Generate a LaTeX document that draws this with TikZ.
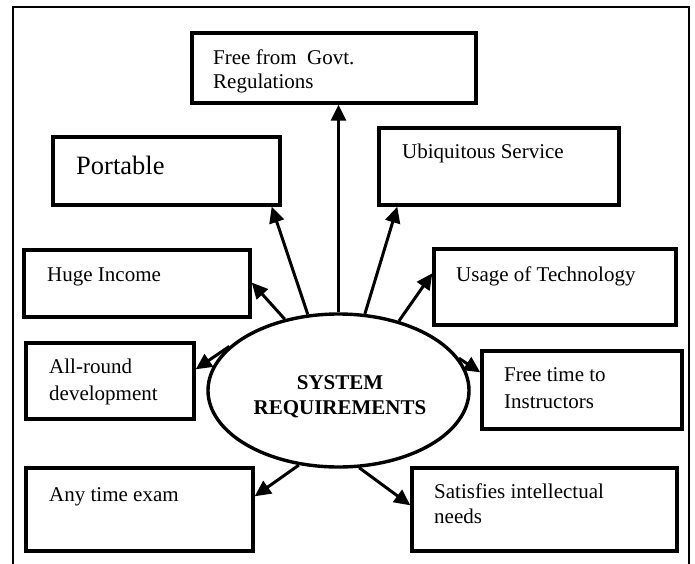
\documentclass[tikz,border=0pt]{standalone}
\usepackage{fontspec}
\setmainfont{Liberation Serif}
\usetikzlibrary{arrows.meta,shapes.geometric}
\begin{document}
\begin{tikzpicture}[x=1pt,y=-1pt,
  box/.style={draw,line width=3.4pt,rectangle,inner sep=0pt},
  lbl/.style={anchor=base west,inner sep=0pt,font=\fontsize{21pt}{25pt}\selectfont},
  ctr/.style={anchor=base,inner sep=0pt,font=\fontsize{21pt}{25pt}\selectfont\bfseries},
  conn/.style={line width=3pt,-{Triangle[length=16pt,width=15pt]}}]
\useasboundingbox (0,0) rectangle (695,564);
\fill[white] (0,0) rectangle (695,564);
\draw[line width=1.2pt] (13,570) -- (13,7) -- (689,7) -- (689,570);
% boxes
\node[box,minimum width=284pt,minimum height=70pt] (free) at (334,68) {};
\node[box,minimum width=227pt,minimum height=68pt] (portable) at (166.5,171) {};
\node[box,minimum width=240pt,minimum height=77pt] (ubi) at (499,166.5) {};
\node[box,minimum width=226pt,minimum height=67pt] (huge) at (137,283.5) {};
\node[box,minimum width=242pt,minimum height=76pt] (usage) at (555,287) {};
\node[box,minimum width=168pt,minimum height=76pt] (allround) at (110,381) {};
\node[box,minimum width=200pt,minimum height=78pt] (freetime) at (582,390) {};
\node[box,minimum width=227pt,minimum height=83pt] (anytime) at (139.5,509.5) {};
\node[box,minimum width=265pt,minimum height=83pt] (satis) at (544.5,509.5) {};
\node[draw,ellipse,line width=3.4pt,minimum width=261pt,minimum height=153pt,inner sep=0pt] (ell) at (338.5,390.5) {};
% texts
\node[lbl] (t1a) at (213,65) {Free from\hspace{0.5em}Govt.};
\node[lbl] (t1b) at (213,89) {Regulations};
\node[lbl,font=\fontsize{26.5pt}{30pt}\selectfont] (t2) at (76,175) {Portable};
\node[lbl] (t3) at (402,159) {Ubiquitous Service};
\node[lbl] (t4) at (47,281) {Huge Income};
\node[lbl] (t5) at (456,281) {Usage of Technology};
\node[lbl] (t6a) at (49,373) {All-round};
\node[lbl] (t6b) at (49,400) {development};
\node[lbl] (t7a) at (504,381) {Free time to};
\node[lbl] (t7b) at (504,408) {Instructors};
\node[lbl] (t8) at (49,501) {Any time exam};
\node[lbl] (t9a) at (434,498) {Satisfies intellectual};
\node[lbl] (t9b) at (434,523) {needs};
\node[ctr] (c1) at (340,389) {SYSTEM};
\node[ctr] (c2) at (340,414) {REQUIREMENTS};
% connectors
\draw[conn] (ell.north) -- (ell.north |- free.south);
\draw[conn] (ell.112) -- ([xshift=-10pt]portable.south east);
\draw[conn] (ell.127) -- ([yshift=1pt]huge.east);
\draw[conn] (ell.71) -- ([xshift=20pt]ubi.south west);
\draw[conn] (ell.49) -- ([yshift=-26pt]usage.north west);
\draw[conn] (ell.158) -- ([yshift=-28pt]allround.north east);
\draw[conn] (ell.15) -- ([yshift=-23pt]freetime.north west);
\draw[conn] (ell.242) -- ([yshift=-30pt]anytime.north east);
\draw[conn] (ell.285) -- ([yshift=-39pt]satis.north west);
\end{tikzpicture}
\end{document}
